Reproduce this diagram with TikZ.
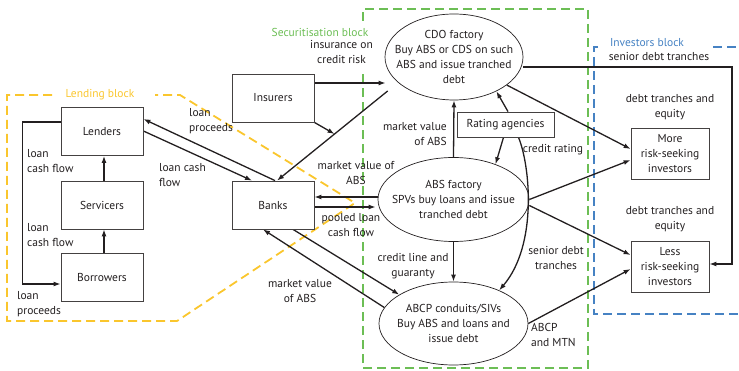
\documentclass[tikz,border=0pt]{standalone}
\usepackage{fontspec}
\setmainfont{PT Sans}
\usetikzlibrary{arrows.meta,shapes.geometric,calc}
\definecolor{ink}{RGB}{35,31,32}
\definecolor{lendc}{RGB}{250,198,45}
\definecolor{secc}{RGB}{108,190,85}
\definecolor{invc}{RGB}{70,130,195}
\pgfdeclarelayer{bg}
\pgfsetlayers{bg,main}
\tikzset{
  box/.style={draw=ink!85, line width=0.8pt, fill=white, minimum width=82pt,
    minimum height=48pt, inner sep=1pt, text=ink, align=center},
  ell/.style={ellipse, draw=ink, line width=0.7pt, inner sep=0pt},
  lbl/.style={text=ink, inner sep=0pt, align=center},
  arr/.style={-{Latex[length=7pt,width=5pt]}, line width=1.3pt, draw=ink},
  blockline/.style={line width=1.8pt, dash pattern=on 9pt off 5pt},
}
\begin{document}
\begin{tikzpicture}[x=1pt,y=-1pt,font=\fontsize{11.5}{15}\selectfont]
\useasboundingbox (0,0) rectangle (739,371);

% ---- block outlines ----
\begin{pgfonlayer}{bg}
  \draw[blockline, lendc] (52,95) -- (7,95) -- (7,321) -- (177,321) -- (355,203) -- (180,95) -- (155,95);
  \draw[blockline, secc] (363,21) -- (363,9) -- (588,9) -- (588,368) -- (363,368) -- (363,72);
  \draw[blockline, invc] (598,47) -- (594,47) -- (594,314) -- (739,314);
  \draw[blockline, invc] (713,47) -- (739,47);
\end{pgfonlayer}
\node[lbl, text=lendc] (lendtitle) at (100,95) {Lending block};
\node[lbl, text=secc] (sectitle) at (320,32) {Securitisation block};
\node[lbl, text=invc] (invtitle) at (647,43) {Investors block};

% ---- boxes ----
\node[box] (lenders) at (102,131.5) {Lenders};
\node[box] (servicers) at (102,205) {Servicers};
\node[box] (borrowers) at (102,277.5) {Borrowers};
\node[box] (insurers) at (273,98) {Insurers};
\node[box] (banks) at (273,205) {Banks};
\node[box, minimum width=97pt, minimum height=25pt] (rating) at (505.5,124.5) {Rating agencies};
\node[box, minimum width=78pt, minimum height=51pt] (more) at (670,153.5) {More\\risk-seeking\\investors};
\node[box, minimum width=78pt, minimum height=51pt] (less) at (670,266.5) {Less\\risk-seeking\\investors};

% ---- ellipses ----
\node[ell, minimum width=138pt, minimum height=86pt] (cdo) at (454,57) {};
\node[lbl] (cdotext) at (cdo) {CDO factory\\Buy ABS or CDS on such\\ABS and issue tranched\\debt};
\node[ell, minimum width=151pt, minimum height=84pt] (abs) at (453.5,199.5) {};
\node[lbl] (abstext) at (abs) {ABS factory\\SPVs buy loans and issue\\tranched debt};
\node[ell, minimum width=149pt, minimum height=83pt] (abcp) at (453.5,323.5) {};
\node[lbl] (abcptext) at (abcp) {ABCP conduits/SIVs\\Buy ABS and loans and\\issue debt};

% ---- connectors ----
\begin{pgfonlayer}{bg}
  % lending side
  \draw[arr] ([yshift=9.5pt]lenders.west) -- ++(-38,0) |- ([yshift=-6.5pt]borrowers.west);
  \draw[arr] ([xshift=2pt]borrowers.north) -- ([xshift=2pt]servicers.south);
  \draw[arr] ([xshift=2pt]servicers.north) -- ([xshift=2pt]lenders.south);
  \draw[arr] ([yshift=0.5pt]lenders.east) -- ([xshift=-21pt]banks.north);
  \draw[arr] ([xshift=2pt]banks.north) -- ([yshift=12.5pt]lenders.east);
  % insurers and CDO
  \draw[arr] ([yshift=15pt]insurers.east) -- ([shift={(1pt,-26pt)}]cdo.west);
  \draw[arr] ([shift={(3pt,-34pt)}]cdo.west) -- ([xshift=4pt]banks.north)
    coordinate[pos=0.48] (insure);
  \draw[arr] (insurers.south east) -- (insure);
  % banks and factories
  \draw[arr] ([yshift=2.5pt]abs.west) -- ([yshift=8pt]banks.east);
  \draw[arr] ([yshift=-2pt]banks.east) -- ([shift={(-2pt,-7.5pt)}]abs.west);
  \draw[arr] ([xshift=20pt]banks.south) -- (abcp.152);
  \draw[arr] (abcp.167) -- ([xshift=-10pt]banks.south);
  % within the securitisation block
  \draw[arr] (abs.north) -- (cdo.south);
  \draw[arr] (abs.south) -- (abcp.north);
  \draw[arr] ([xshift=2.5pt]rating.north) -- (cdo.-39);
  \draw[arr] ([xshift=-2pt]rating.south) -- (abs.40);
  \draw[arr] ([xshift=13pt]rating.south) .. controls (530,165) and (538,245) .. (abcp.36);
  % to investors
  \draw[arr] (cdo.-28) -- ([yshift=4.5pt]more.west);
  \coordinate (rightrail) at (732,0);
  \draw[arr] ([yshift=-10pt]cdo.east) -| ([yshift=2.5pt]less.east -| rightrail) -- ([yshift=2.5pt]less.east);
  \draw[arr] (abs.east) -- ([yshift=-6.5pt]more.west);
  \draw[arr] ([yshift=-6pt]abs.east) -- ([yshift=11.5pt]less.west);
  \draw[arr] (abcp.east) -- ([yshift=-2.5pt]less.west);
\end{pgfonlayer}

% ---- connector labels ----
\node[lbl, anchor=west, align=left] (l1) at (27,161) {loan\\cash flow};
\node[lbl, anchor=west, align=left] (l2) at (27,235.5) {loan\\cash flow};
\node[lbl, anchor=west, align=left] (l3) at (17,304.5) {loan\\proceeds};
\node[lbl, anchor=west, align=left] (l4) at (189,121) {loan\\proceeds};
\node[lbl, anchor=west, align=left] (l5) at (159,175) {loan cash\\flow};
\node[lbl, fill=white, inner sep=1pt] (l6) at (341.5,52) {insurance on\\credit risk};
\node[lbl, anchor=east, align=right] (l7) at (447,134) {market value\\of ABS};
\node[lbl] (l8) at (356,173) {market value of\\ABS};
\node[lbl] (l9) at (351,225) {pooled loan\\cash flow};
\node[lbl] (l10) at (413,266) {credit line and\\guaranty};
\node[lbl] (l11) at (300,291) {market value\\of ABS};
\node[lbl] (l12) at (553,150) {credit rating};
\node[lbl] (l13) at (556,258) {senior debt\\tranches};
\node[lbl, anchor=west, align=left] (l14) at (531,335) {ABCP\\and MTN};
\node[lbl] (l15) at (659,57) {senior debt tranches};
\node[lbl] (l16) at (670,107) {debt tranches and\\equity};
\node[lbl] (l17) at (670,219) {debt tranches and\\equity};
\end{tikzpicture}
\end{document}
